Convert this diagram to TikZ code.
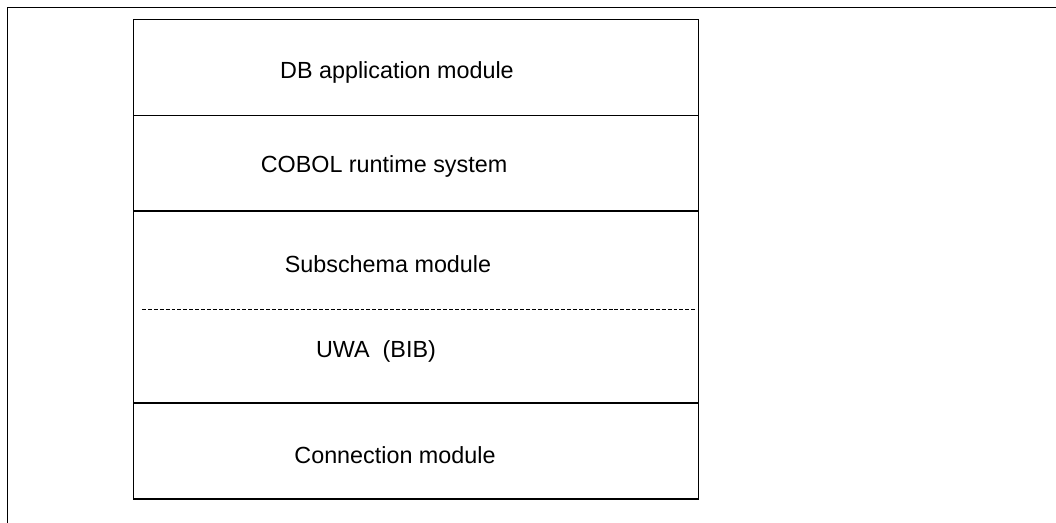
\documentclass[tikz,border=0pt]{standalone}
\usepackage{fontspec}
\setmainfont{Liberation Sans}
\begin{document}
\begin{tikzpicture}[
    x=0.025cm, y=-0.025cm,
    frame/.style={
        line width=1.1pt,
        draw=black
    },
    layer/.style={
        line width=1.1pt,
        draw=black
    },
    split/.style={
        line width=0.6pt,
        draw=black,
        dash pattern=on 2.8pt off 1.4pt
    },
    lbl/.style={
        anchor=base,
        inner sep=0pt,
        font=\fontsize{16.6}{19}\selectfont
    }
]
\useasboundingbox (0,0) rectangle (1056,523);

% Outer frame
\draw[frame] (7.5,523) -- (7.5,7.5) -- (1056,7.5);

% Layer stack
\draw[layer] (133.5,19.5) rectangle (698.5,499);
\draw[layer] (133.5,115.5) -- (698.5,115.5);
\draw[layer] (133.5,211) -- (698.5,211);
\draw[split] (142,309.5) -- (697,309.5);
\draw[layer] (133.5,403) -- (698.5,403);

% Labels
\node[lbl] (dbapp) at (397,79) {DB application module};
\node[lbl] (cobol) at (384,173) {COBOL runtime system};
\node[lbl] (subschema) at (388,273) {Subschema module};
\node[lbl] (uwa) at (376,358) {UWA\ \ (BIB)};
\node[lbl] (connection) at (395,463) {Connection module};

\end{tikzpicture}
\end{document}
